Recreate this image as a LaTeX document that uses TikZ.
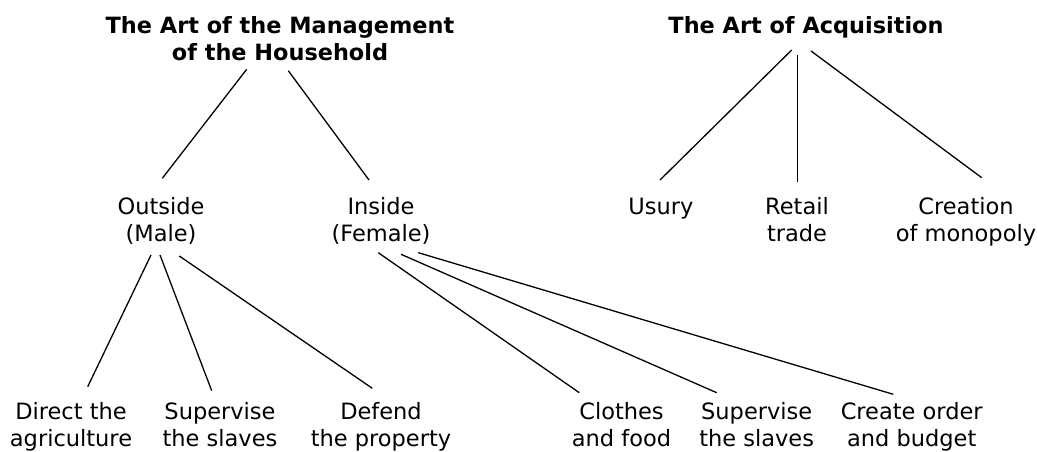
\documentclass[tikz,border=0pt]{standalone}
\usepackage{fontspec}
\setmainfont{DejaVu Sans}
\begin{document}
\begin{tikzpicture}[x=1pt,y=1pt,
  lbl/.style={inner sep=0pt, align=center, font=\fontsize{22.5}{27}\selectfont},
  ttl/.style={inner sep=0pt, align=center, font=\fontsize{22.4}{27}\selectfont\bfseries},
  conn/.style={line width=1.3pt}]
\useasboundingbox (0,0) rectangle (1037,451);
\node[ttl] (house) at (280,408.9) {\strut The Art of the Management\\of the Household\strut};
\node[ttl] (acq) at (806,422.4) {\strut The Art of Acquisition};
\node[lbl] (outside) at (161,228.4) {\strut Outside\\(Male)\strut};
\node[lbl] (inside) at (381,228.4) {\strut Inside\\(Female)\strut};
\node[lbl] (usury) at (661,241.9) {\strut Usury};
\node[lbl] (retail) at (797,228.4) {\strut Retail\\trade\strut};
\node[lbl] (creation) at (966,228.4) {\strut Creation\\of monopoly\strut};
\node[lbl] (direct) at (71,23.4) {\strut Direct the\\agriculture\strut};
\node[lbl] (supA) at (220,23.4) {\strut Supervise\\the slaves\strut};
\node[lbl] (defend) at (381,23.4) {\strut Defend\\the property\strut};
\node[lbl] (clothes) at (621.5,23.4) {\strut Clothes\\and food\strut};
\node[lbl] (supB) at (756.7,23.4) {\strut Supervise\\the slaves\strut};
\node[lbl] (create) at (911.7,23.4) {\strut Create order\\and budget\strut};
\draw[conn] ([shift={(-33.3,-27.2)}]house.center) -- ([shift={(1.3,44.3)}]outside.center);
\draw[conn] ([shift={(8.3,-28.6)}]house.center) -- ([shift={(-12,42.6)}]inside.center);
\draw[conn] ([shift={(-14.3,-21.4)}]acq.center) -- ([shift={(-1,29.1)}]usury.center);
\draw[conn] ([shift={(-8.3,-26.4)}]acq.center) -- ([shift={(0.7,40.9)}]retail.center);
\draw[conn] ([shift={(5,-22.4)}]acq.center) -- ([shift={(15.7,44.9)}]creation.center);
\draw[conn] ([shift={(-10,-32.4)}]outside.center) -- ([shift={(16.7,40.9)}]direct.center);
\draw[conn] ([shift={(-1,-32.4)}]outside.center) -- ([shift={(-8.3,36.9)}]supA.center);
\draw[conn] ([shift={(18.3,-33.4)}]outside.center) -- ([shift={(-8.7,39.3)}]defend.center);
\draw[conn] ([shift={(-2.7,-30.1)}]inside.center) -- ([shift={(-42.2,34.9)}]clothes.center);
\draw[conn] ([shift={(20,-31.7)}]inside.center) -- ([shift={(-40,34.9)}]supB.center);
\draw[conn] ([shift={(37.3,-30.1)}]inside.center) -- ([shift={(-18.4,33.3)}]create.center);
\end{tikzpicture}
\end{document}
